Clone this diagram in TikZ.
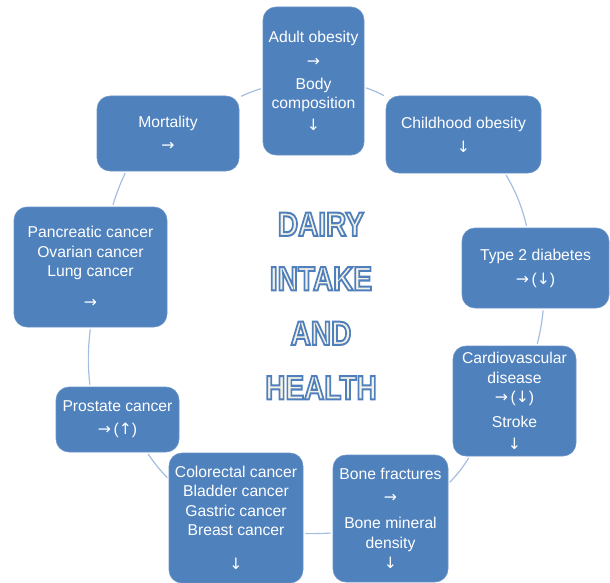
\documentclass[tikz,border=0pt]{standalone}
\usepackage{fontspec}
\setmainfont{Liberation Sans}
\newfontfamily\arrowfont{DejaVu Sans}
\usepackage{graphicx}
\usetikzlibrary{positioning,backgrounds}
\definecolor{boxblue}{HTML}{4F81BD}
\definecolor{linkblue}{HTML}{A5BDE0}
\definecolor{titlefill}{HTML}{F4F2E4}
\newcommand{\toright}{{\arrowfont →}}
\newcommand{\todown}{{\arrowfont ↓}}
\newcommand{\toup}{{\arrowfont ↑}}
% outlined capitals: fill then stroke
\newcommand{\headword}[1]{\scalebox{1}[1.2]{\special{pdf:literal direct 2 Tr 1.7 w 0.31 0.50 0.74 RG}#1\special{pdf:literal direct 0 Tr}}}

\begin{document}
\begin{tikzpicture}[x=1pt,y=-1pt,
		box/.style={shape=rectangle,rounded corners=13pt,fill=boxblue,draw=boxblue!85!white,line width=0.6pt,text=white,align=center,inner sep=0pt,font=\fontsize{15.7}{19.5}\selectfont},
		link/.style={draw=linkblue,line width=1.2pt,shorten <=2pt,shorten >=2pt}]
		\useasboundingbox (0,0) rectangle (610,583);
		% boxes round the circle
		\node(adult) [box,minimum width=101pt,minimum height=148pt] at (313.5,81) {Adult obesity\\[5pt]\toright\\[3pt]Body\\composition\\[2.5pt]\todown};
		\node(child) [box,minimum width=155pt,minimum height=77pt] at (463.5,134.5) {Childhood obesity\\[4.5pt]\todown};
		\node(t2d) [box,minimum width=147pt,minimum height=80pt] at (535.5,268) {Type 2 diabetes\\[4.5pt]\toright\,(\todown)};
		\node(cvd) [box,minimum width=123pt,minimum height=110pt] at (514.5,401) {Cardiovascular\\disease\\\toright\,(\todown)\\[5.5pt]Stroke\\[2.5pt]\todown};
		\node(bone) [box,minimum width=115pt,minimum height=127pt] at (390.5,518.5) {Bone fractures\\[3.5pt]\toright\\[6.5pt]Bone mineral\\density\\[0.5pt]\todown};
		\node(colorectal) [box,minimum width=134pt,minimum height=130pt] at (236,518) {Colorectal cancer\\Bladder cancer\\Gastric cancer\\Breast cancer\\[14.5pt]\todown};
		\node(prostate) [box,minimum width=123pt,minimum height=65pt] at (117.5,419.5) {Prostate cancer\\[3.5pt]\toright\,(\toup)};
		\node(pancreatic) [box,minimum width=153pt,minimum height=120pt] at (90.5,267) {Pancreatic cancer\\Ovarian cancer\\Lung cancer\\[11.5pt]\toright};
		\node(mortality) [box,minimum width=142pt,minimum height=75pt] at (168,133.5) {Mortality\\[3.5pt]\toright};
		% title in the middle
		\node(title) [align=center,text=titlefill,font=\bfseries\fontsize{28}{54.5}\selectfont] at (321,306) {\headword{DAIRY}\\\headword{INTAKE}\\\headword{AND}\\\headword{HEALTH}};
		% links
		\draw[link] (mortality.27) to[bend left=4] (adult.188);
		\draw[link] (adult.353) to[bend left=4] (child.154);
		\draw[link] (child.317) to[bend left=8] (t2d.102);
		\draw[link] (t2d.281) to[bend left=4] (cvd.68);
		\draw[link] (cvd.231) to[bend left=6] (bone.31);
		\draw[link] (bone.194) to[bend left=2] (colorectal.347);
		\draw[link] (colorectal.150) to[bend left=5] (prostate.312);
		\draw[link] (prostate.130) to[bend left=6] (pancreatic.270);
		\draw[link] (pancreatic.70) to[bend left=4] (mortality.222);
	\end{tikzpicture}
\end{document}
